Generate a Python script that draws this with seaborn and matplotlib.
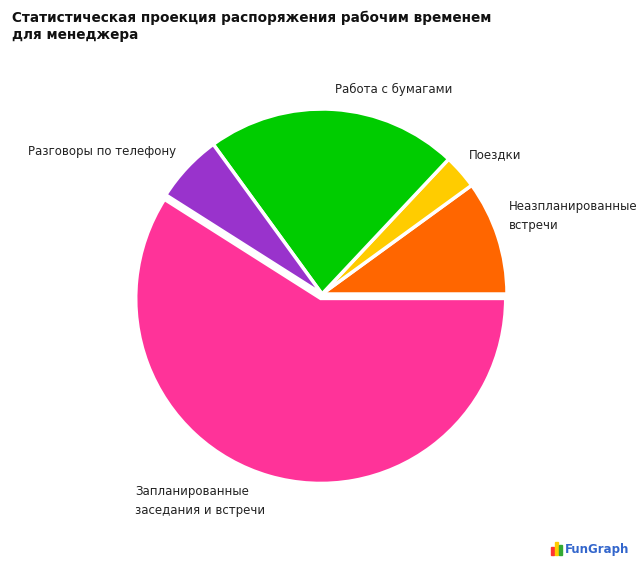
import matplotlib
matplotlib.use("Agg")
import matplotlib.pyplot as plt
import seaborn as sns

sns.set_theme(style="white")
plt.rcParams['font.family'] = ['DejaVu Sans']

# Data
categories = ["Неазпланированные\nвстречи", "Поездки", "Работа с бумагами",
              "Разговоры по телефону", "Запланированные\nзаседания и встречи"]
shares = [10, 3, 22, 6, 59]
colors = ["#FF6600", "#FFCC00", "#00CC00", "#9933CC", "#FF3399"]
explode = [0, 0, 0, 0, 0.025]

W, H = 640, 565
R = 185.0
cx, cy = 322, 294

fig = plt.figure(figsize=(W / 100, H / 100), dpi=100)
ax = fig.add_axes([0, 0, 1, 1])
ax.pie(shares, colors=colors, startangle=0, counterclock=True, explode=explode,
       radius=1, center=(0, 0),
       wedgeprops=dict(edgecolor="white", linewidth=2.5))
ax.set_aspect('auto')
ax.set_xlim(-cx / R, (W - cx) / R)
ax.set_ylim(-(H - cy) / R, cy / R)
ax.axis('off')


def px(x, y):
    return (x - cx) / R, (cy - y) / R


lab_kw = dict(fontsize=8.5, color="#222222", linespacing=1.6)
ax.text(*px(509, 200), categories[0], ha='left', va='top', **lab_kw)
ax.text(*px(469, 155), categories[1], ha='left', va='center', **lab_kw)
ax.text(*px(335, 89), categories[2], ha='left', va='center', **lab_kw)
ax.text(*px(28, 151), categories[3], ha='left', va='center', **lab_kw)
ax.text(*px(135, 485), categories[4], ha='left', va='top', **lab_kw)

fig.text(12 / W, 1 - 11 / H, "Статистическая проекция распоряжения рабочим временем\nдля менеджера",
         fontsize=9.8, fontweight='bold', color="#111111", ha='left', va='top', linespacing=1.2)

# logo
bar_cols = ["#FF3333", "#FFCC00", "#33AA33"]
for i, (c, h) in enumerate(zip(bar_cols, [8, 13, 10])):
    fig.patches.append(plt.Rectangle(((551 + i * 4) / W, (H - 555) / H), 3 / W, h / H,
                                     transform=fig.transFigure, color=c))
fig.text(565 / W, 1 - 549 / H, "FunGraph", fontsize=8.5, fontweight='bold',
         color="#3366CC", ha='left', va='center')

fig.savefig("out.png", dpi=100)
